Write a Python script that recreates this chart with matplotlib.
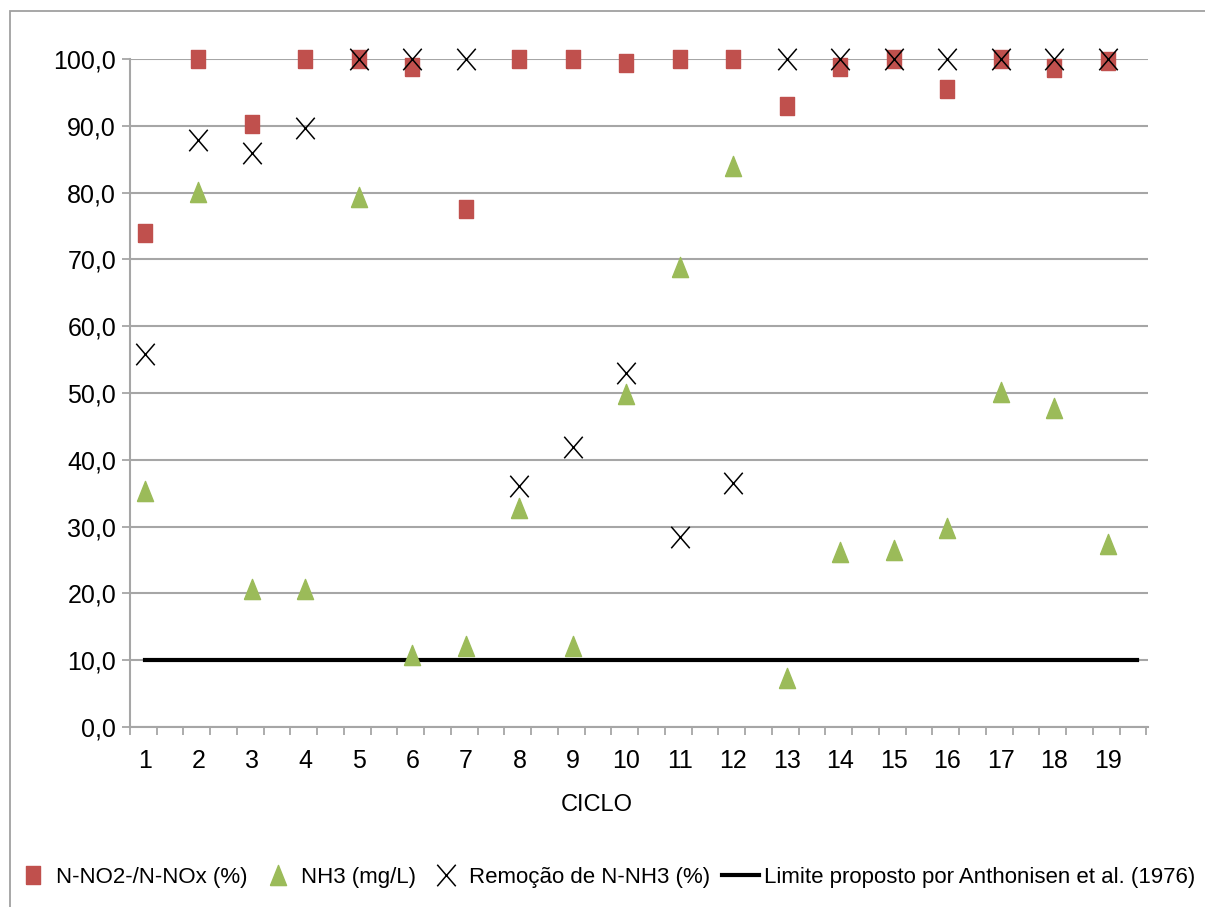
import matplotlib

matplotlib.use("Agg")
import matplotlib.pyplot as plt
from matplotlib import font_manager
from matplotlib.path import Path
from matplotlib.patches import Rectangle
import numpy as np

installed = {f.name for f in font_manager.fontManager.ttflist}
narrow = [n for n in ("Liberation Sans Narrow", "Arial Narrow") if n in installed]
if narrow:
    plt.rcParams["font.family"] = [narrow[0], "DejaVu Sans"]
    FS = 20
else:
    plt.rcParams["font.family"] = ["Liberation Sans", "DejaVu Sans"]
    FS = 17

ciclos = list(range(1, 20))
no2_nox = [74.0, 100.0, 90.3, 100.0, 100.0, 98.8, 77.5, 100.0, 100.0, 99.4,
           100.0, 100.0, 93.0, 98.8, 100.0, 95.5, 100.0, 98.6, 99.7]
nh3 = [35.3, 80.1, 20.7, 20.7, 79.3, 10.8, 12.2, 32.8, 12.2, 49.9,
       68.9, 84.0, 7.3, 26.2, 26.5, 29.8, 50.2, 47.8, 27.4]
remocao = [55.9, 87.9, 85.9, 89.7, 100.0, 100.0, 100.0, 36.1, 41.9, 53.0,
           28.4, 36.6, 100.0, 100.0, 100.0, 100.0, 100.0, 100.0, 100.0]
limite_x = [1, 19.55]
limite_y = [10.0, 10.0]

RED = "#C0504D"
GREEN = "#9BBB59"
GRID = "#A6A6A6"

# marker shapes (slightly taller than wide, as in the source)
sq = [(-0.39, -0.5), (0.39, -0.5), (0.39, 0.5), (-0.39, 0.5), (-0.39, -0.5)]
tri = [(-0.4, -0.5), (0.4, -0.5), (0.0, 0.5), (-0.4, -0.5)]
cross = Path([(-0.43, -0.5), (0.43, 0.5), (-0.43, 0.5), (0.43, -0.5)],
             [Path.MOVETO, Path.LINETO, Path.MOVETO, Path.LINETO])

fig = plt.figure(figsize=(12.05, 9.07), dpi=100)
ax = fig.add_axes([130 / 1205, 1 - 727 / 907, (1148 - 130) / 1205, (727 - 59) / 907])

ax.plot(ciclos, no2_nox, linestyle="none", marker=sq, markersize=13,
        color=RED, markeredgecolor=RED, clip_on=False, zorder=3,
        label="N-NO2-/N-NOx (%)")
ax.plot(ciclos, nh3, linestyle="none", marker=tri, markersize=14.5,
        color=GREEN, markeredgecolor=GREEN, clip_on=False, zorder=3,
        label="NH3 (mg/L)")
ax.plot(ciclos, remocao, linestyle="none", marker=cross, markersize=15.5,
        markerfacecolor="none", markeredgecolor="black", markeredgewidth=1.1,
        clip_on=False, zorder=4, label="Remoção de N-NH3 (%)")
ax.plot(limite_x, limite_y, color="black", linewidth=3, zorder=2,
        label="Limite proposto por Anthonisen et al. (1976)")

ax.set_xlim(0.72, 19.75)
ax.set_ylim(0, 100)
ax.set_yticks(np.arange(0, 101, 10))
ax.set_yticklabels([f"{v:.1f}".replace(".", ",") for v in np.arange(0, 101, 10)])
ax.set_xticks(ciclos)
ax.set_xticks(np.arange(0.72, 19.8, 0.5), minor=True)
ax.tick_params(axis="x", which="major", length=0, pad=16, labelsize=FS + 1)
ax.tick_params(axis="x", which="minor", length=6, width=1.3, color=GRID, direction="out")
ax.tick_params(axis="y", length=6, width=1.3, color=GRID, labelsize=FS + 1, pad=4)
ax.grid(axis="y", color=GRID, linewidth=1.5, zorder=0)
ax.set_axisbelow(True)
for s in ("top", "right"):
    ax.spines[s].set_visible(False)
for s in ("left", "bottom"):
    ax.spines[s].set_color(GRID)
    ax.spines[s].set_linewidth(1.5)

ax.set_xlabel("CICLO", fontsize=FS)
ax.xaxis.set_label_coords((597 - 130) / (1148 - 130), -0.10)

fig.legend(loc="center left", bbox_to_anchor=(14 / 1205, 1 - 877 / 907), ncol=4,
           frameon=False, fontsize=FS - 1, handlelength=1.7, handletextpad=0.2,
           columnspacing=0.5, borderpad=0, borderaxespad=0)

# outer chart border
fig.patches.append(Rectangle((10 / 1205, -0.05), 1.1, 1 - 11 / 907 + 0.05,
                             transform=fig.transFigure, fill=False,
                             edgecolor="#A0A0A0", linewidth=1.3))

fig.savefig("out.png", dpi=100)
